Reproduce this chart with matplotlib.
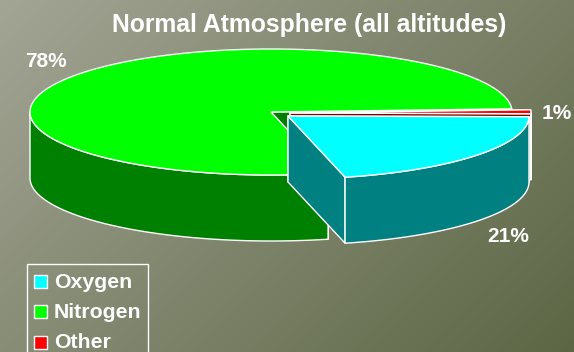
import numpy as np
import matplotlib.pyplot as plt
from matplotlib.patches import Polygon, Rectangle

plt.rcParams['font.family'] = ['Liberation Sans', 'DejaVu Sans']

categories = ["Oxygen", "Nitrogen", "Other"]
shares = [21, 78, 1]
share_labels = ["21%", "78%", "1%"]
colors = ["#00ffff", "#00ff00", "#ff0000"]
wall_colors = ["#008080", "#008000", "#800000"]
title = "Normal Atmosphere (all altitudes)"

# pie geometry in pixels
cx, cy = 271, 112
rx, ry = 241, 63
depth = 66
start_angle = -0.7
explode = {"Oxygen": (17, 4), "Nitrogen": (0, 0), "Other": (19, 1)}

fig = plt.figure(figsize=(5.74, 3.52), dpi=100)
ax = fig.add_axes([0, 0, 1, 1])
ax.set_xlim(0, 574)
ax.set_ylim(352, 0)
ax.axis("off")

# diagonal background gradient
yy, xx = np.mgrid[0:1:176j, 0:1:287j]
grad = np.clip(0.62 * xx + 0.38 * yy, 0, 1)[..., None]
light = np.array([0xa3, 0xa5, 0x95]) / 255
dark = np.array([0x5c, 0x66, 0x44]) / 255
ax.imshow(light * (1 - grad) + dark * grad, extent=[0, 574, 352, 0], aspect="auto", zorder=0)


def rim(t0, t1, ox=0, oy=0, n=200):
    t = np.radians(np.linspace(t0, t1, n))
    return np.column_stack([cx + ox + rx * np.cos(t), cy + oy - ry * np.sin(t)])


def add_poly(pts, color, z):
    ax.add_patch(Polygon(pts, closed=True, facecolor=color, edgecolor="white", lw=1, joinstyle="round", zorder=z))


# slices go clockwise from 3 o'clock
ends = start_angle - np.cumsum(shares) * 3.6
starts = np.concatenate([[start_angle], ends[:-1]])
down = np.array([0, depth])


def draw_slice(i, z):
    ox, oy = explode[categories[i]]
    t0, t1 = starts[i], ends[i]
    centre = np.array([cx + ox, cy + oy])
    # cut faces
    for t in (t0, t1):
        edge = rim(t, t, ox, oy, 1)[0]
        add_poly([centre, edge, edge + down, centre + down], wall_colors[i], z)
    # outer wall, only the part that faces the viewer (-180 to 0, -540 to -360)
    for lo, hi in ((-180, 0), (-540, -360)):
        a, b = max(min(t0, t1), lo), min(max(t0, t1), hi)
        if a < b:
            top = rim(a, b, ox, oy)
            add_poly(np.vstack([top, (top + down)[::-1]]), wall_colors[i], z + 1)
    # top face
    add_poly(np.vstack([[centre], rim(t0, t1, ox, oy, 400)]), colors[i], z + 2)


draw_slice(1, 2)
draw_slice(2, 6)
draw_slice(0, 10)

# value labels
label_pos = [(508, 242), (46, 67), (557, 119)]
for s, (x, y) in zip(share_labels, label_pos):
    ax.text(x, y, s, color="white", fontsize=15, fontweight="bold", ha="center", va="baseline", zorder=20)

ax.text(309, 32, title, color="white", fontsize=17.8, fontweight="bold", ha="center", va="baseline", zorder=20)

# legend, runs off the bottom of the image
ax.add_patch(Rectangle((27, 263.5), 121, 100, facecolor="none", edgecolor="white", lw=1, zorder=20))
for i, name in enumerate(categories):
    y = 281 + i * 30.5
    ax.add_patch(Rectangle((34, y - 6.5), 13, 13, facecolor=colors[i], edgecolor="white", lw=1, zorder=21))
    ax.text(54, y + 6.5, name, color="white", fontsize=15.3, fontweight="bold", ha="left", va="baseline", zorder=21)

fig.savefig("out.png", dpi=100)
